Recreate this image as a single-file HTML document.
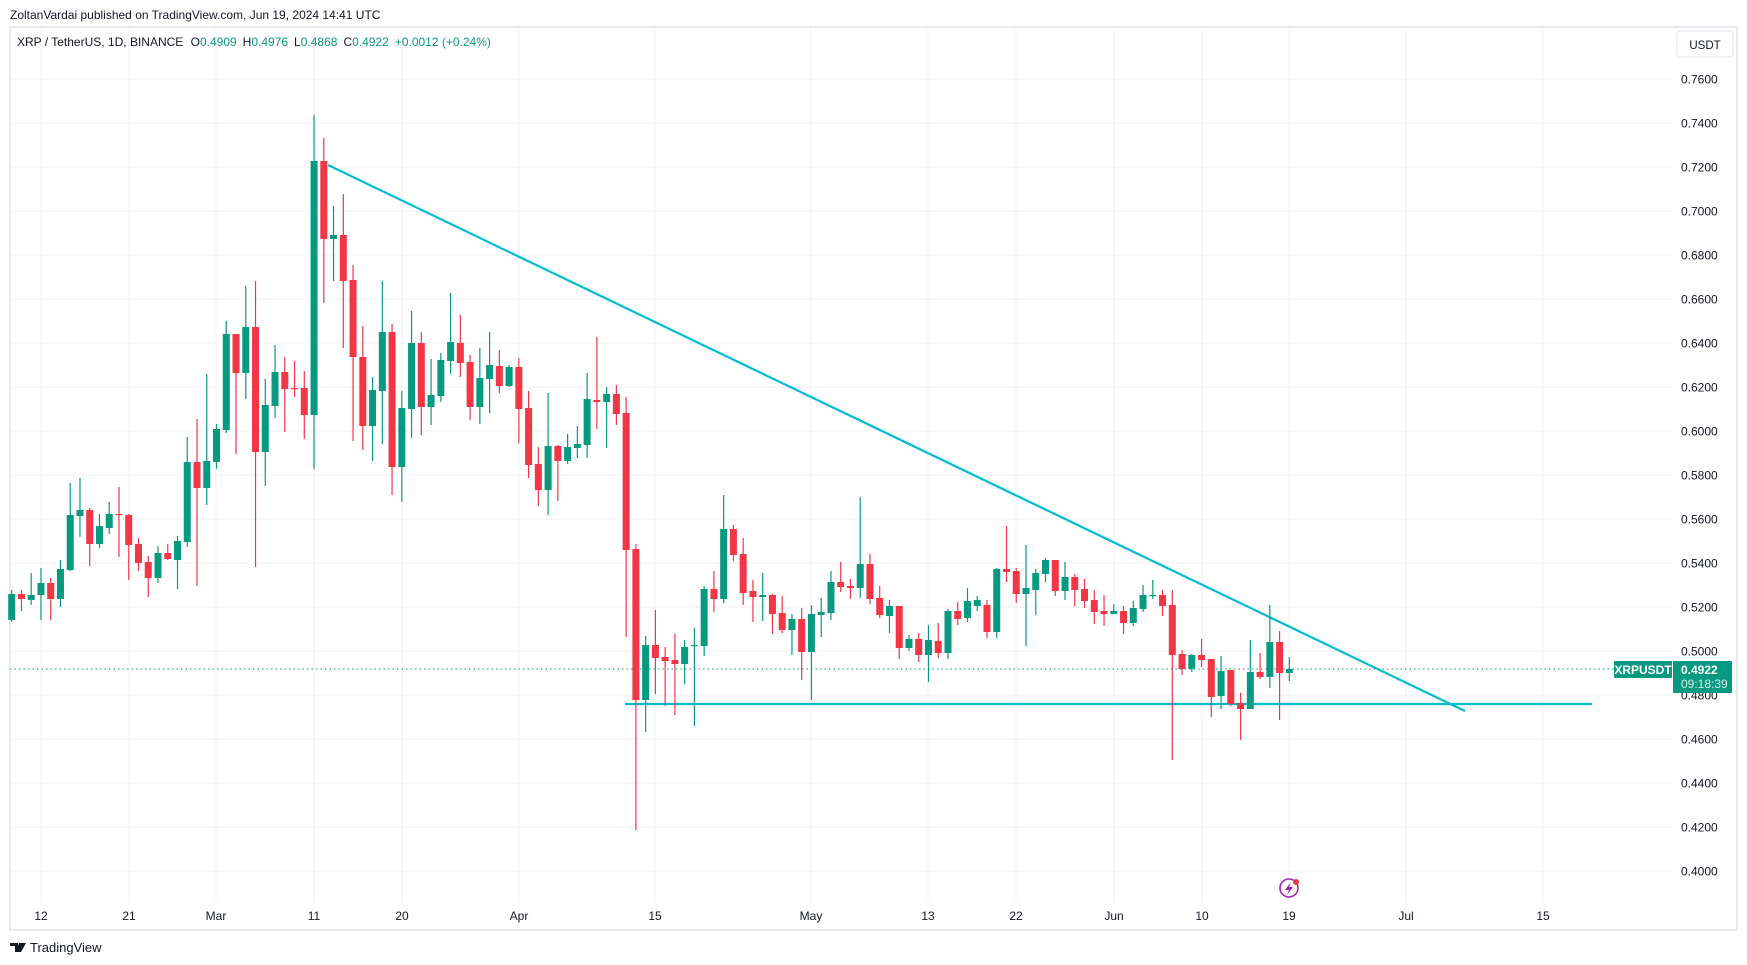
<!DOCTYPE html>
<html><head><meta charset="utf-8"><style>
html,body{margin:0;padding:0;background:#fff;width:1747px;height:965px;overflow:hidden}
svg{display:block;font-family:"Liberation Sans",sans-serif}
</style></head><body>
<svg id="s" width="1747" height="965" viewBox="0 0 1747 965" xmlns="http://www.w3.org/2000/svg">
<rect width="1747" height="965" fill="#fff"/>
<text x="10" y="19" font-size="12" fill="#131722">ZoltanVardai published on TradingView.com, Jun 19, 2024 14:41 UTC</text>
<rect x="10" y="27" width="1727" height="903" fill="#fff" stroke="#e0e3eb" stroke-width="1.5"/>
<g id="grid"></g>
<g id="lines"></g>
<g id="candles"></g>
<g id="over"></g>
<text x="17" y="46" font-size="12" fill="#131722">XRP / TetherUS, 1D, BINANCE <tspan dx="4">O</tspan><tspan fill="#089981">0.4909</tspan><tspan dx="6">H</tspan><tspan fill="#089981">0.4976</tspan><tspan dx="6">L</tspan><tspan fill="#089981">0.4868</tspan><tspan dx="6">C</tspan><tspan fill="#089981">0.4922</tspan><tspan dx="6" fill="#089981">+0.0012 (+0.24%)</tspan></text>
<rect x="1677" y="31" width="56" height="26" rx="4" fill="#fff" stroke="#e0e3eb"/>
<text x="1705" y="49" font-size="11.5" fill="#131722" text-anchor="middle">USDT</text>
<circle cx="1289" cy="888" r="9" fill="none" stroke="#9c27b0" stroke-width="1.6"/>
<path d="M1291 882 L1285 890 L1289 890 L1287 895 L1293 887 L1289 887 Z" fill="#9c27b0"/>
<circle cx="1296" cy="882" r="3" fill="#f23645"/>
<g transform="translate(10,941)"><path d="M0 2h8v9h-3v-6h-5z M9 2h3l-3 9h-3z M12 2h4l-5 9h-2z" fill="#131722"/></g>
<text x="30" y="952" font-size="13" fill="#131722">TradingView</text>
</svg>
<script>
const NS="http://www.w3.org/2000/svg";
function el(p,t,a,txt){const e=document.createElementNS(NS,t);for(const k in a)e.setAttribute(k,a[k]);if(txt!==undefined)e.textContent=txt;document.getElementById(p).appendChild(e);return e;}
// horizontal grid + labels
for(let i=0;i<=18;i++){const p=0.76-i*0.02;const y=79+i*44;
 el("grid","line",{x1:10,x2:1672,y1:y,y2:y,stroke:"#f0f1f4","stroke-width":1});
 el("over","text",{x:1681,y:y+4.5,"font-size":12,fill:"#131722"},p.toFixed(4));}
const dates=[[41,"12"],[129,"21"],[216,"Mar"],[314,"11"],[402,"20"],[519,"Apr"],[655,"15"],[811,"May"],[928,"13"],[1016,"22"],[1114,"Jun"],[1202,"10"],[1289,"19"],[1406,"Jul"],[1543,"15"]];
dates.forEach(([x,t])=>{el("grid","line",{x1:x,x2:x,y1:28,y2:902,stroke:"#f0f1f4","stroke-width":1});
 el("over","text",{x:x,y:920,"font-size":12,fill:"#131722","text-anchor":"middle"},t);});
// candles O H L C in pixel y
const D=[[620,590,622,594],[594,590,611,599],[600,573,605,595],[595,568,620,583],[583,578,620,599],[599,560,607,569],[570,483,571,515],[516,478,537,510],[510,508,566,544],[544,514,548,526],[528,502,534,514],[514,487,557,515],[515,514,580,545],[544,538,571,563],[562,556,597,578],[578,546,583,553],[553,544,560,559],[560,536,589,541],[542,437,547,462],[462,419,586,488],[488,374,505,461],[462,424,469,429],[430,321,433,334],[334,334,454,373],[373,286,399,327],[327,281,567,452],[452,379,486,405],[406,345,418,372],[372,357,432,389],[388,361,397,389],[388,371,439,415],[415,115,469,161],[161,138,303,239],
[239,206,281,235],[235,194,348,281],[280,265,441,357],[357,326,450,426],[426,377,461,390],[391,281,444,332],[332,324,495,467],[467,391,502,408],[409,311,438,343],[343,332,435,407],[407,359,425,395],[396,353,402,360],[361,293,374,342],[343,315,377,363],[362,355,420,407],[407,348,424,378],[379,332,413,365],[366,350,393,386],[386,365,387,367],[367,358,443,409],[408,391,478,465],[464,447,506,490],[490,393,515,446],[446,445,501,461],[461,434,464,447],[448,426,458,444],[445,373,458,399],[400,337,429,402],[402,387,448,394],[394,385,425,414],[413,397,637,550],
[549,544,830,700],[700,636,732,645],[645,610,694,658],[657,647,706,661],[660,634,715,664],[664,640,684,647],[646,628,726,645],[646,586,656,589],[589,571,612,599],[599,495,603,529],[529,525,561,555],[554,538,605,593],[591,580,622,597],[597,573,621,595],[595,594,634,614],[613,596,633,630],[630,614,655,619],[619,608,680,652],[652,605,700,614],[615,598,637,612],[613,571,620,582],[582,562,592,587],[586,579,599,588],[588,497,598,564],[564,554,604,599],[598,586,618,615],[616,600,633,606],[606,606,659,648],[648,635,651,639],[639,633,662,655],[655,625,682,640],[641,623,658,653],[653,609,659,611],[611,602,625,619],[618,588,622,601],[606,596,611,600],[605,600,638,632],[632,568,638,569],
[569,526,582,572],[571,568,603,594],[594,545,646,588],[590,569,615,573],[574,558,582,560],[560,560,596,591],[591,562,600,577],[577,574,606,590],[589,579,608,601],[600,590,624,612],[611,595,626,614],[614,604,614,611],[611,606,634,623],[623,601,626,608],[609,585,612,595],[596,580,599,595],[595,590,616,606],[605,590,760,655],[654,650,675,669],[669,654,672,655],[655,639,667,660],[659,659,717,697],[696,656,709,671],[670,670,706,704],[703,693,740,709],[709,640,709,672],[672,653,679,677],[677,605,688,642],[642,631,720,673],[673,657,681,669]];
D.forEach((c,i)=>{const [o,h,l,cl]=c;const x=11.7+i*9.753;const up=cl<=o;const col=up?"#089981":"#f23645";
 el("candles","line",{x1:x,x2:x,y1:h,y2:l,stroke:col,"stroke-width":1.2});
 const t=Math.min(o,cl),b=Math.max(o,cl);
 el("candles","rect",{x:x-3.5,y:t,width:7,height:Math.max(1.2,b-t),fill:col});});
// drawings
el("lines","line",{x1:328,y1:165,x2:1465,y2:711,stroke:"#00bcd4","stroke-width":2.2});
el("lines","line",{x1:625,y1:704,x2:1592,y2:704,stroke:"#00bcd4","stroke-width":2.2});
el("lines","line",{x1:10,y1:669,x2:1614,y2:669,stroke:"#089981","stroke-width":1,"stroke-dasharray":"1.5 3"});
// price labels
el("over","rect",{x:1614,y:661,width:58,height:17,fill:"#089981",rx:1});
el("over","text",{x:1643,y:674,"font-size":12,fill:"#fff","text-anchor":"middle","font-weight":"bold"},"XRPUSDT");
el("over","rect",{x:1673,y:661,width:59,height:32,fill:"#089981",rx:1});
el("over","text",{x:1681,y:674,"font-size":12,fill:"#fff","font-weight":"bold"},"0.4922");
el("over","text",{x:1681,y:688,"font-size":12,fill:"#d5efe9"},"09:18:39");
</script>
</body></html>
